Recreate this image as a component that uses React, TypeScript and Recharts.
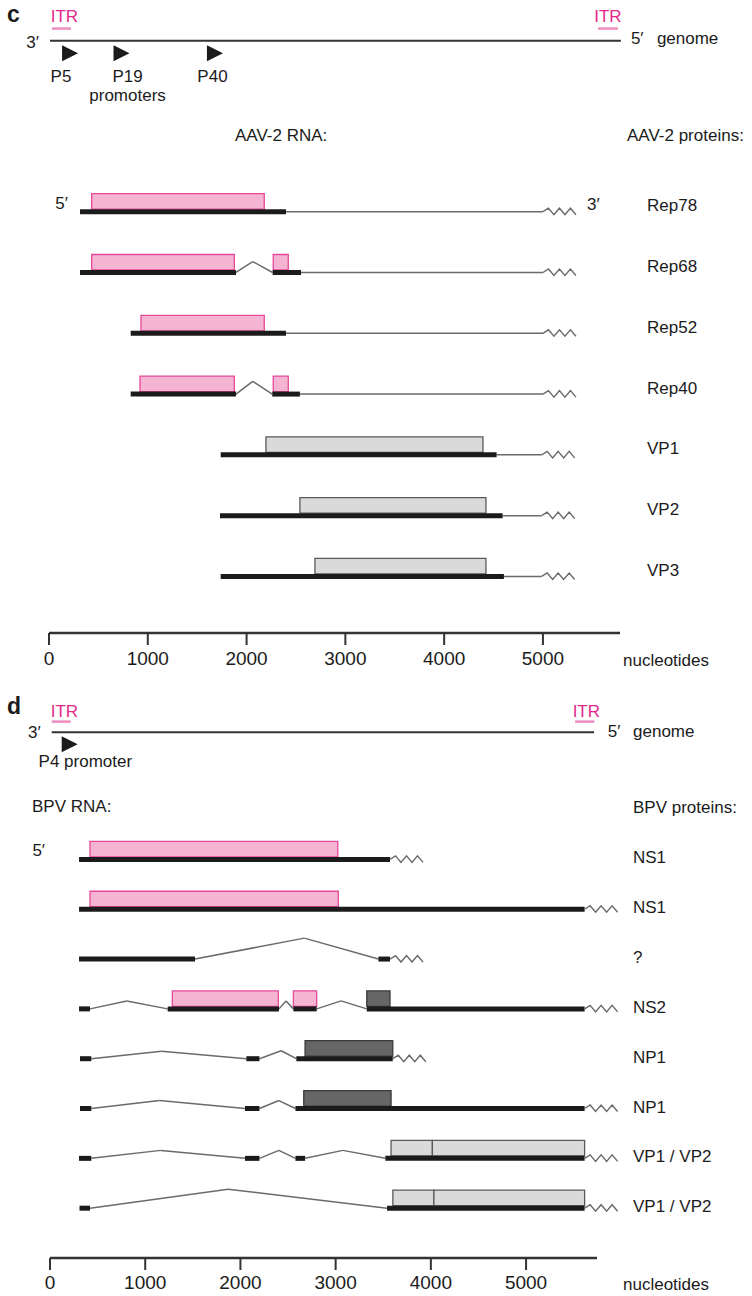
import React from "react"
import { ComposedChart, XAxis, YAxis, ReferenceArea, ReferenceLine, ReferenceDot, Line } from "recharts"

type Seg = [number, number]
// donor, apex, acceptor, apex lift (in rows)
type Intron = [number, number, number, number]

const FONT = "'Liberation Sans', Arial, Helvetica, sans-serif"
const INK = "#1b1b1b"
const THIN = "#6a6a6a"
const PINK_FILL = "#F5B4D2"
const PINK_EDGE = "#E6489A"
const ITR_TEXT = "#E2288A"
const ITR_BAR = "#EE8DC0"
const GREY_FILL = "#DADADA"
const GREY_EDGE = "#5a5a5a"
const DARK_FILL = "#666666"
const DARK_EDGE = "#3a3a3a"
const NT_TICKS = [0, 1000, 2000, 3000, 4000, 5000]

// ---------- panel c: AAV-2 ----------
const aavProteins = ["Rep78", "Rep68", "Rep52", "Rep40", "VP1", "VP2", "VP3"]
const aavExons: Seg[][] = [
  [[314, 2399]],
  [[314, 1893], [2264, 2551]],
  [[827, 2399]],
  [[827, 1893], [2260, 2540]],
  [[1738, 4531]],
  [[1731, 4592]],
  [[1738, 4605]],
]
const aavIntrons: Intron[][] = [[], [[1893, 2062, 2264, 0.18]], [], [[1893, 2062, 2260, 0.21]], [], [], []]
const aavRepOrfs: Seg[][] = [[[432, 2179]], [[432, 1876], [2270, 2422]], [[931, 2179]], [[921, 1876], [2270, 2422]], [], [], []]
const aavCapOrfs: Seg[][] = [[], [], [], [], [[2196, 4393]], [[2540, 4423]], [[2692, 4423]]]
const aavPolyA = [5000, 5000, 5000, 5000, 4987, 4987, 4987]
const aavGenome: Seg = [10, 5789]
const aavItrs: Seg[] = [[30, 223], [5557, 5759]]
const aavItrLabelAt = [156, 5658]
const aavPromoterSites = [213, 734, 1680]
const aavPromoterNames = ["P5", "P19", "P40"]
const aavPromoterLabelAt = [121, 795, 1655]
const aavNtRange = [0, 5780]

// ---------- panel d: BPV ----------
const bpvProteins = ["NS1", "NS1", "?", "NS2", "NP1", "NP1", "VP1 / VP2", "VP1 / VP2"]
const bpvExons: Seg[][] = [
  [[305, 3571]],
  [[305, 5615]],
  [[305, 1523], [3449, 3571]],
  [[305, 420], [1236, 2405], [2556, 2801], [3327, 5615]],
  [[315, 434], [2062, 2200], [2587, 3600]],
  [[315, 434], [2048, 2200], [2578, 5615]],
  [[305, 434], [2048, 2200], [2578, 2679], [3522, 5615]],
  [[310, 420], [3540, 5615]],
]
const bpvIntrons: Intron[][] = [
  [],
  [],
  [[1523, 2671, 3449, 0.42]],
  [[420, 806, 1236, 0.16], [2405, 2479, 2556, 0.16], [2801, 3057, 3327, 0.16]],
  [[434, 1172, 2062, 0.15], [2200, 2428, 2587, 0.16]],
  [[434, 1150, 2048, 0.16], [2200, 2404, 2578, 0.16]],
  [[434, 1164, 2048, 0.16], [2200, 2404, 2578, 0.16], [2679, 3076, 3522, 0.16]],
  [[420, 1870, 3540, 0.38]],
]
const bpvNsOrfs: Seg[][] = [[[420, 3022]], [[420, 3028]], [], [[1285, 2398], [2556, 2801]], [], [], [], []]
const bpvNpOrfs: Seg[][] = [[], [], [], [[3327, 3571]], [[2679, 3600]], [[2665, 3582]], [], []]
const bpvVpOrfs: Seg[][] = [[], [], [], [], [], [], [[3582, 4016], [4016, 5615]], [[3601, 4032], [4032, 5615]]]
const bpvPolyA = [3571, 5615, 3571, 5615, 3600, 5615, 5615, 5615]
const bpvGenome: Seg = [18, 5714]
const bpvItrs: Seg[] = [[18, 217], [5515, 5718]]
const bpvItrLabelAt = [152, 5633]
const bpvPromoterSites = [207]
const bpvPromoterNames = ["P4 promoter"]
const bpvPromoterLabelAt = [371]
const bpvNtRange = [0, 5745]

const Zig = (p: any) => {
  const pts = [[0, 0], [5.5, -3.5], [11, 3], [16.5, -3.5], [22, 3], [27.5, -3.5], [33, 3]]
  return (
    <polyline
      points={pts.map(([dx, dy]) => `${p.cx + dx},${p.cy + dy}`).join(" ")}
      fill="none"
      stroke={THIN}
      strokeWidth={1.4}
    />
  )
}

const triangle = (dy: number) => (p: any) => (
  <polygon
    points={`${p.cx - 8},${p.cy + dy - 8} ${p.cx + 8},${p.cy + dy} ${p.cx - 8},${p.cy + dy + 8}`}
    fill={INK}
  />
)

const word = (value: string, dx: number, dy: number, anchor = "middle", fill = INK) => (p: any) => (
  <text
    x={p.cx + dx}
    y={p.cy + dy}
    textAnchor={anchor}
    dominantBaseline="central"
    fill={fill}
    fontSize={17}
    fontFamily={FONT}
  >
    {value}
  </text>
)

type Look = {
  itrTextDy: number
  itrBarDy: number
  threeDx: number
  threeDy: number
  fiveDx: number
  genomeDx: number
  endDy: number
  promoterDy: number
}

function genomeMarks(
  key: string,
  row: number,
  rowPx: number,
  genome: Seg,
  itrs: Seg[],
  itrLabelAt: number[],
  sites: number[],
  look: Look
) {
  const out: React.ReactNode[] = []
  out.push(
    <ReferenceLine key={key + "g"} segment={[{ x: genome[0], y: row }, { x: genome[1], y: row }]} stroke="#333" strokeWidth={2} ifOverflow="visible" />
  )
  itrs.forEach(([a, b], k) => {
    const y = row + look.itrBarDy / rowPx
    out.push(<ReferenceLine key={key + "itr" + k} segment={[{ x: a, y }, { x: b, y }]} stroke={ITR_BAR} strokeWidth={2.5} ifOverflow="visible" />)
    out.push(<ReferenceDot key={key + "itrt" + k} x={itrLabelAt[k]} y={row} ifOverflow="visible" shape={word("ITR", 0, look.itrTextDy, "middle", ITR_TEXT)} />)
  })
  out.push(<ReferenceDot key={key + "3p"} x={genome[0]} y={row} ifOverflow="visible" shape={word("3\u2032", look.threeDx, look.threeDy, "end")} />)
  out.push(<ReferenceDot key={key + "5p"} x={genome[1]} y={row} ifOverflow="visible" shape={word("5\u2032", look.fiveDx, look.endDy, "start")} />)
  out.push(<ReferenceDot key={key + "gn"} x={genome[1]} y={row} ifOverflow="visible" shape={word("genome", look.genomeDx, look.endDy, "start")} />)
  sites.forEach((s, k) => {
    out.push(<ReferenceDot key={key + "pr" + k} x={s} y={row} ifOverflow="visible" shape={triangle(look.promoterDy)} />)
  })
  return out
}

function transcriptMarks(
  key: string,
  rowPx: number,
  exons: Seg[][],
  introns: Intron[][],
  polyA: number[],
  orfs: { segs: Seg[][]; fill: string; stroke: string }[]
) {
  const out: React.ReactNode[] = []
  const boxTop = 18 / rowPx
  const boxBottom = 2.5 / rowPx
  exons.forEach((segs, row) => {
    introns[row].forEach(([a, apex, b, lift], k) => {
      out.push(<ReferenceLine key={`${key}i${row}-${k}a`} segment={[{ x: a, y: row }, { x: apex, y: row - lift }]} stroke={THIN} strokeWidth={1.5} ifOverflow="visible" />)
      out.push(<ReferenceLine key={`${key}i${row}-${k}b`} segment={[{ x: apex, y: row - lift }, { x: b, y: row }]} stroke={THIN} strokeWidth={1.5} ifOverflow="visible" />)
    })
    const last = segs[segs.length - 1][1]
    if (polyA[row] > last + 1) {
      out.push(<ReferenceLine key={`${key}u${row}`} segment={[{ x: last, y: row }, { x: polyA[row], y: row }]} stroke={THIN} strokeWidth={1.5} ifOverflow="visible" />)
    }
    out.push(<ReferenceDot key={`${key}z${row}`} x={polyA[row]} y={row} ifOverflow="visible" shape={Zig} />)
    orfs.forEach(({ segs: orfSegs, fill, stroke }, o) => {
      orfSegs[row].forEach(([s, e], k) => {
        out.push(
          <ReferenceArea
            key={`${key}o${o}-${row}-${k}`}
            x1={s}
            x2={e}
            y1={row - boxTop}
            y2={row - boxBottom}
            fill={fill}
            fillOpacity={1}
            stroke={stroke}
            strokeWidth={1.3}
            ifOverflow="visible"
          />
        )
      })
    })
    segs.forEach(([s, e], k) => {
      out.push(<ReferenceLine key={`${key}e${row}-${k}`} segment={[{ x: s, y: row }, { x: e, y: row }]} stroke={INK} strokeWidth={5} ifOverflow="visible" />)
    })
  })
  return out
}

const rowTick = (names: string[], dy: number) => (t: any) => (
  <text x={t.x} y={t.y + dy} textAnchor="start" dominantBaseline="central" fill={INK} fontSize={17} fontFamily={FONT}>
    {names[t.payload.value]}
  </text>
)

const Header = ({ x, y, children, bold }: { x: number; y: number; children: React.ReactNode; bold?: boolean }) => (
  <div
    style={{
      position: "absolute",
      left: x,
      top: y - 13,
      lineHeight: "26px",
      fontFamily: FONT,
      fontSize: bold ? 23 : 17,
      fontWeight: bold ? 700 : 400,
      color: INK,
      whiteSpace: "nowrap",
    }}
  >
    {children}
  </div>
)

export default function App() {
  // panel c geometry
  const cTop = 5
  const cHeight = 687
  const cAxisH = 54
  const cDomain: Seg = [-3.4, 6.93]
  const cRowPx = (cHeight - cTop - cAxisH) / (cDomain[1] - cDomain[0])
  const cGenomeRow = -2.81

  // panel d geometry
  const dTop = 5
  const dHeight = 625
  const dAxisH = 52
  const dDomain: Seg = [-3.4, 8.0]
  const dRowPx = (dHeight - dTop - dAxisH) / (dDomain[1] - dDomain[0])
  const dGenomeRow = -2.553

  const cData = aavNtRange.map((nt) => ({ nt, row: cGenomeRow }))
  const dData = bpvNtRange.map((nt) => ({ nt, row: dGenomeRow }))

  const axisStyle = {
    axisLine: { stroke: "#333", strokeWidth: 2.5 },
    tickLine: { stroke: "#333", strokeWidth: 2 },
    tick: { fill: INK, fontSize: 19, fontFamily: FONT },
  }

  return (
    <div style={{ position: "absolute", left: 0, top: 0, width: 752, height: 1296, overflow: "hidden", background: "#fff" }}>
      <div style={{ position: "absolute", left: 0, top: 0 }}>
        <ComposedChart width={752} height={cHeight} data={cData} margin={{ top: cTop, right: 0, bottom: 0, left: 49 }}>
          <XAxis
            type="number"
            dataKey="nt"
            domain={aavNtRange}
            ticks={NT_TICKS}
            interval={0}
            allowDataOverflow
            height={cAxisH}
            tickSize={12}
            tickMargin={7}
            {...axisStyle}
            label={{ value: "nucleotides", position: "right", offset: 3, fill: INK, fontSize: 17, fontFamily: FONT }}
          />
          <YAxis
            type="number"
            orientation="right"
            domain={cDomain}
            reversed
            allowDataOverflow
            ticks={aavProteins.map((_, i) => i)}
            interval={0}
            axisLine={false}
            tickLine={false}
            tickSize={0}
            tickMargin={27}
            width={132}
            tick={rowTick(aavProteins, -6)}
          />
          <Line dataKey="row" stroke="none" dot={false} activeDot={false} isAnimationActive={false} />
          {genomeMarks("c", cGenomeRow, cRowPx, aavGenome, aavItrs, aavItrLabelAt, aavPromoterSites, {
            itrTextDy: -24,
            itrBarDy: -12.3,
            threeDx: -11,
            threeDy: 2,
            fiveDx: 10,
            genomeDx: 36,
            endDy: -2,
            promoterDy: 12.5,
          })}
          {aavPromoterNames.map((n, k) => (
            <ReferenceDot key={"pn" + k} x={aavPromoterLabelAt[k]} y={cGenomeRow} ifOverflow="visible" shape={word(n, 0, 36)} />
          ))}
          <ReferenceDot x={aavPromoterLabelAt[1]} y={cGenomeRow} ifOverflow="visible" shape={word("promoters", 0, 55)} />
          {transcriptMarks("c", cRowPx, aavExons, aavIntrons, aavPolyA, [
            { segs: aavRepOrfs, fill: PINK_FILL, stroke: PINK_EDGE },
            { segs: aavCapOrfs, fill: GREY_FILL, stroke: GREY_EDGE },
          ])}
          <ReferenceDot x={aavExons[0][0][0]} y={0} ifOverflow="visible" shape={word("5\u2032", -12, -7.7, "end")} />
          <ReferenceDot x={aavPolyA[0]} y={0} ifOverflow="visible" shape={word("3\u2032", 44, -6.7, "start")} />
        </ComposedChart>
      </div>

      <div style={{ position: "absolute", left: 0, top: 685 }}>
        <ComposedChart width={752} height={dHeight} data={dData} margin={{ top: dTop, right: 0, bottom: 0, left: 50 }}>
          <XAxis
            type="number"
            dataKey="nt"
            domain={bpvNtRange}
            ticks={NT_TICKS}
            interval={0}
            allowDataOverflow
            height={dAxisH}
            tickSize={12}
            tickMargin={6}
            {...axisStyle}
            label={{ value: "nucleotides", position: "right", offset: 26, fill: INK, fontSize: 17, fontFamily: FONT }}
          />
          <YAxis
            type="number"
            orientation="right"
            domain={dDomain}
            reversed
            allowDataOverflow
            ticks={bpvProteins.map((_, i) => i)}
            interval={0}
            axisLine={false}
            tickLine={false}
            tickSize={0}
            tickMargin={36}
            width={155}
            tick={rowTick(bpvProteins, -1.5)}
          />
          <Line dataKey="row" stroke="none" dot={false} activeDot={false} isAnimationActive={false} />
          {genomeMarks("d", dGenomeRow, dRowPx, bpvGenome, bpvItrs, bpvItrLabelAt, bpvPromoterSites, {
            itrTextDy: -20.6,
            itrBarDy: -10.6,
            threeDx: -11,
            threeDy: 0.7,
            fiveDx: 13.7,
            genomeDx: 39,
            endDy: -0.6,
            promoterDy: 12,
          })}
          <ReferenceDot x={bpvPromoterLabelAt[0]} y={dGenomeRow} ifOverflow="visible" shape={word(bpvPromoterNames[0], 0, 29.4)} />
          {transcriptMarks("d", dRowPx, bpvExons, bpvIntrons, bpvPolyA, [
            { segs: bpvNsOrfs, fill: PINK_FILL, stroke: PINK_EDGE },
            { segs: bpvNpOrfs, fill: DARK_FILL, stroke: DARK_EDGE },
            { segs: bpvVpOrfs, fill: GREY_FILL, stroke: GREY_EDGE },
          ])}
          <ReferenceDot x={bpvExons[0][0][0]} y={0} ifOverflow="visible" shape={word("5\u2032", -34, -9, "end")} />
        </ComposedChart>
      </div>

      <Header x={7} y={14} bold>c</Header>
      <Header x={235} y={136}>AAV-2 RNA:</Header>
      <Header x={627} y={136}>AAV-2 proteins:</Header>
      <Header x={7} y={706} bold>d</Header>
      <Header x={32} y={807}>BPV RNA:</Header>
      <Header x={633} y={808}>BPV proteins:</Header>
    </div>
  )
}
